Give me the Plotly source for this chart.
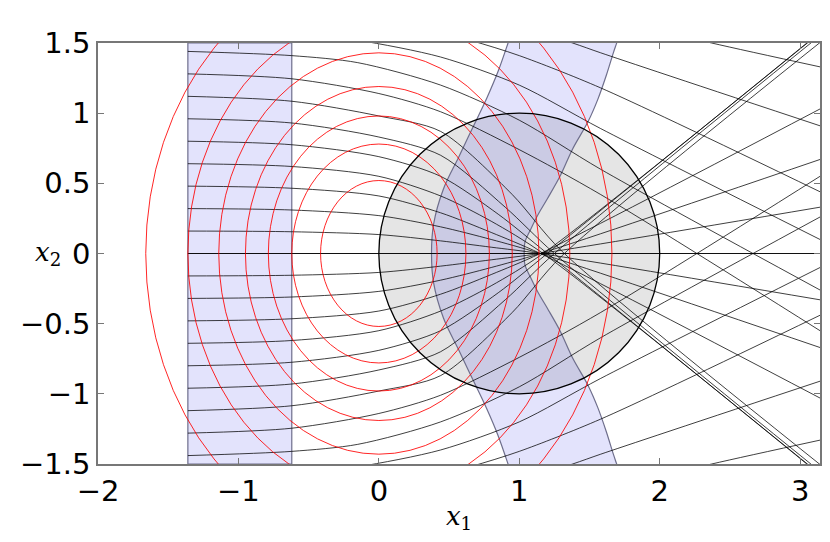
import plotly.graph_objects as go

PI = 3.14159

# red level curves (ellipses centred at the origin): half widths / half heights
red_rx = [0.415, 0.62, 0.787, 0.95, 1.14, 1.36, 1.66]
red_ry = [0.52, 0.78, 0.98, 1.19, 1.43, 1.70, 2.07]

# straight band
band_x0, band_x1 = -1.36, -0.62

# grey disc
disc_x0, disc_x1, disc_y0, disc_y1 = 0.0, 2.0, -1.0, 1.0

# transported band, upper half boundaries (mirrored below)
wave_left_x = [0.375, 0.39, 0.46, 0.57, 0.67, 0.77, 0.85, 0.92, 0.94]
wave_left_y = [0.0, 0.21, 0.46, 0.69, 0.90, 1.11, 1.30, 1.50, 1.56]
wave_right_x = [1.035, 1.04, 1.08, 1.135, 1.20, 1.29, 1.38, 1.49, 1.56, 1.62, 1.67, 1.70, 1.71]
wave_right_y = [0.0, 0.08, 0.17, 0.28, 0.39, 0.55, 0.745, 0.94, 1.10, 1.27, 1.43, 1.52, 1.56]

# rays, upper half (mirrored below)
ray_x = [
    [-1.36, PI],
    [-1.36, -0.62, 0.0, 0.44, 0.80, 1.15, PI],
    [-1.36, -0.62, 0.0, 0.44, 0.80, 1.15, PI],
    [-1.36, -0.62, 0.0, 0.44, 0.80, 1.15, PI],
    [-1.36, -0.62, 0.0, 0.44, 0.80, 1.17, 3.17],
    [-1.36, -0.62, 0.0, 0.44, 0.85, 1.20, 3.20],
    [-1.36, -0.62, 0.0, 0.44, 0.90, 1.25, 3.20],
    [-1.36, -0.62, 0.0, 0.44, 0.95, 1.30, 3.20],
    [-1.36, -0.62, 0.0, 0.44, 1.00, 1.58, PI],
    [-1.36, -0.62, -0.15, 0.44, 1.00, 1.58, PI],
    [-1.36, -0.62, -0.15, 0.44, 1.00, 1.58, PI],
    [-1.36, -0.62, 0.0, 0.65, 1.00, 1.58, PI],
    [-1.36, -0.62, 0.0, 0.60, 1.38, 1.58, PI],
    [-1.36, -0.62, 0.0, 0.80, 1.58, 2.37, PI],
]
ray_y = [
    [0.0, 0.0],
    [0.16, 0.155, 0.135, 0.09, 0.045, 0.0, -0.33],
    [0.32, 0.31, 0.27, 0.19, 0.10, 0.0, -0.67],
    [0.48, 0.465, 0.41, 0.29, 0.15, 0.0, -1.03],
    [0.64, 0.62, 0.55, 0.41, 0.23, 0.0, -1.60],
    [0.80, 0.775, 0.69, 0.55, 0.28, 0.0, -1.62],
    [0.96, 0.93, 0.83, 0.70, 0.33, 0.0, -1.60],
    [1.12, 1.085, 0.98, 0.87, 0.42, 0.02, -1.55],
    [1.28, 1.245, 1.14, 1.01, 0.74, 0.42, -0.55],
    [1.44, 1.41, 1.36, 1.20, 0.95, 0.60, -0.26],
    [1.60, 1.575, 1.52, 1.40, 1.20, 0.89, 0.10],
    [1.76, 1.74, 1.70, 1.52, 1.41, 1.18, 0.44],
    [1.92, 1.90, 1.86, 1.75, 1.50, 1.43, 0.91],
    [2.08, 2.06, 2.02, 1.92, 1.69, 1.50, 1.33],
]

x_ticks = [-2, -1, 0, 1, 2, 3]
y_ticks = [-1.5, -1, -0.5, 0, 0.5, 1, 1.5]

fig = go.Figure()

# grey disc and straight band underneath everything
fig.add_shape(type="circle", x0=disc_x0, x1=disc_x1, y0=disc_y0, y1=disc_y1,
              fillcolor="rgba(0,0,0,0.1)", line=dict(width=0), layer="below")
fig.add_shape(type="rect", x0=band_x0, x1=band_x1, y0=-1.5, y1=1.5,
              fillcolor="rgba(0,0,230,0.11)",
              line=dict(color="#6e6e8c", width=1.2), layer="below")

# transported band: left edge bottom->top, right edge top->bottom
wx = wave_left_x[::-1] + wave_left_x[1:]
wy = [-v for v in wave_left_y[::-1]] + wave_left_y[1:]
wx = wx + wave_right_x[::-1] + wave_right_x[1:]
wy = wy + wave_right_y[::-1] + [-v for v in wave_right_y[1:]]
fig.add_trace(go.Scatter(
    x=wx, y=wy, mode="lines", fill="toself",
    fillcolor="rgba(0,0,230,0.11)",
    line=dict(color="#6e6e8c", width=1.2, shape="spline"),
    hoverinfo="skip", showlegend=False
))

# red level curves
for a, b in zip(red_rx, red_ry):
    fig.add_shape(type="circle", x0=-a, x1=a, y0=-b, y1=b,
                  line=dict(color="rgba(255,0,0,0.85)", width=1), layer="above")

# rays
for xs, ys in zip(ray_x, ray_y):
    for sign in (1, -1):
        fig.add_trace(go.Scatter(
            x=xs, y=[sign * v for v in ys], mode="lines",
            line=dict(color="rgba(0,0,0,0.75)", width=1, shape="spline",
                      smoothing=0.8),
            hoverinfo="skip", showlegend=False
        ))

# disc outline on top
fig.add_shape(type="circle", x0=disc_x0, x1=disc_x1, y0=disc_y0, y1=disc_y1,
              line=dict(color="black", width=1.3), layer="above")

fig.add_annotation(
    text="<i>x</i><sub>2</sub>", xref="paper", yref="y", x=-0.09, y=0,
    showarrow=False, font=dict(family="DejaVu Serif", size=26, color="black")
)

fig.update_layout(
    width=830, height=542,
    margin=dict(l=90, r=18, t=35, b=86),
    paper_bgcolor="white", plot_bgcolor="white",
    font=dict(family="DejaVu Sans", size=29, color="black"),
)
fig.update_xaxes(
    range=[-2, PI], tickvals=x_ticks, showgrid=False, zeroline=False,
    showline=True, mirror="ticks", linecolor="#777", linewidth=1.5,
    ticks="inside", ticklen=6, tickcolor="#777", automargin=False,
    title=dict(text="<i>x</i><sub>1</sub>", standoff=0,
               font=dict(family="DejaVu Serif", size=26))
)
fig.update_yaxes(
    range=[-1.5, 1.5], tickvals=y_ticks, showgrid=False, zeroline=False,
    showline=True, mirror="ticks", linecolor="#777", linewidth=1.5,
    ticks="inside", ticklen=6, tickcolor="#777", automargin=False
)

fig.write_html("out.html")
